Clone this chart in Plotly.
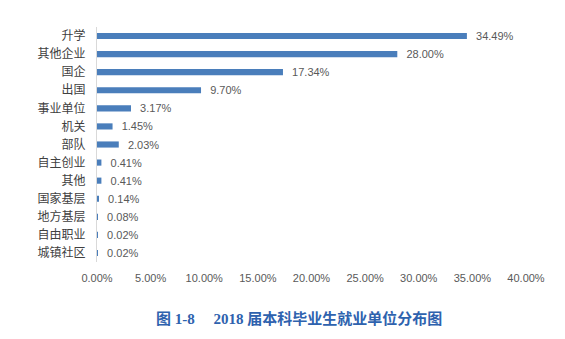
import plotly.graph_objects as go

categories = ["升学", "其他企业", "国企", "出国", "事业单位", "机关", "部队",
              "自主创业", "其他", "国家基层", "地方基层", "自由职业", "城镇社区"]
values = [34.49, 28.00, 17.34, 9.70, 3.17, 1.45, 2.03, 0.41, 0.41, 0.14, 0.08, 0.02, 0.02]
x_ticks = [0, 5, 10, 15, 20, 25, 30, 35, 40]
title_text = "图 1-8　 2018 届本科毕业生就业单位分布图"

fig = go.Figure(go.Bar(
    y=categories, x=values, orientation="h",
    marker=dict(color="#4A7EBB", line=dict(width=0)),
    width=0.34,
    text=[f"{v:.2f}%" for v in values],
    texttemplate="  %{text}",
    textposition="outside",
    constraintext="none",
    cliponaxis=False,
    textfont=dict(family="Liberation Sans, Noto Sans CJK SC", size=11, color="#595959"),
))

fig.update_layout(
    width=565, height=339,
    margin=dict(l=97, r=39, t=27, b=77),
    paper_bgcolor="white", plot_bgcolor="white",
    showlegend=False,
    font=dict(family="Noto Sans CJK SC", color="#595959"),
    annotations=[dict(
        text=f"<b>{title_text}</b>", x=(299 - 97) / 429, xref="paper", xanchor="center",
        y=(339 - 318 - 77) / (339 - 27 - 77), yref="paper", yanchor="middle", showarrow=False,
        font=dict(family="Liberation Serif, Noto Sans CJK SC", size=15, color="#2E62AE"),
    )],
)

fig.update_xaxes(
    range=[0, 40], tickvals=x_ticks, ticktext=[f"{t:.2f}%" for t in x_ticks],
    showgrid=False, zeroline=False, showline=False,
    tickfont=dict(family="Liberation Sans, Noto Sans CJK SC", size=11, color="#595959"),
    ticks="", ticklabelstandoff=8,
)
fig.update_yaxes(
    categoryorder="array", categoryarray=categories, autorange="reversed",
    showgrid=False, zeroline=False, showline=True, linecolor="#D9D9D9", linewidth=1,
    tickfont=dict(family="Noto Sans CJK SC", size=12, color="#404040"),
    ticks="", ticklabelstandoff=8,
)

fig.write_html("out.html")
